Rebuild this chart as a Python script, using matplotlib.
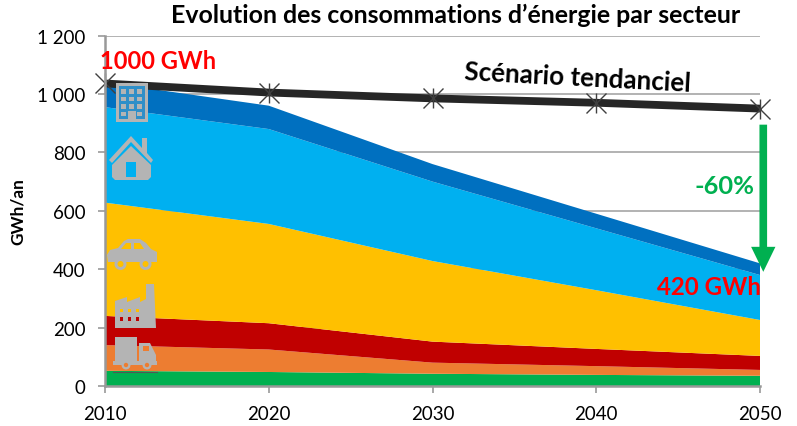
import matplotlib
matplotlib.use('Agg')
from matplotlib import pyplot as plt
from matplotlib.patches import Circle, Polygon

years = [2010, 2020, 2030, 2040, 2050]
agriculture = [52, 48, 42, 38, 35]
freight = [88, 77, 38, 30, 20]
industry = [100, 90, 72, 59, 48]
transport = [388, 340, 276, 201, 123]
residential = [327, 325, 272, 212, 154]
tertiary = [85, 80, 60, 50, 40]
trend = [1036, 1005, 985, 970, 950]

layer_colors = ['#00b050', '#ed7d31', '#c00000', '#ffc000', '#00b0f0', '#0070c0']
y_ticks = [0, 200, 400, 600, 800, 1000, 1200]
y_labels = ['0', '200', '400', '600', '800', '1 000', '1 200']

W, H = 797.0, 427.0
ICON = '#b4b4b4'

plt.rcParams['font.family'] = ['Lato', 'DejaVu Sans']


def px(x, y):
    return x / W, 1 - y / H


def poly(ax, points, color=ICON, alpha=1.0):
    ax.add_patch(Polygon([px(*p) for p in points], closed=True, facecolor=color,
                         edgecolor='none', alpha=alpha, transform=ax.figure.transFigure,
                         clip_on=False, zorder=5))


def box(ax, x0, y0, x1, y1, color=ICON):
    poly(ax, [(x0, y0), (x1, y0), (x1, y1), (x0, y1)], color)


def disc(ax, x, y, r, color=ICON):
    # drawn in pixels, the figure transform would squash a circle
    ax.add_patch(Circle((x, H - y), r, facecolor=color, edgecolor='none',
                        transform=None, clip_on=False, zorder=6))


def drawIcons(ax):
    # building
    box(ax, 116, 84, 148, 123)
    box(ax, 119, 87, 145, 120, '#2f8fc8')
    for row in range(4):
        for col in range(3):
            box(ax, 121 + col * 8, 90 + row * 7.5, 126 + col * 8, 94.5 + row * 7.5)
    box(ax, 128, 112, 136, 123, ICON)

    # house
    poly(ax, [(109, 161), (131, 137), (142, 149), (142, 139), (147, 139),
              (147, 154), (153, 161), (151, 164), (131, 143), (112, 164)])
    poly(ax, [(112, 166), (131, 147), (151, 166), (151, 178), (148, 181),
              (115, 181), (112, 178)])
    box(ax, 126, 163, 136, 178, '#00b0f0')

    # car
    poly(ax, [(107, 256), (110, 251), (118, 249), (124, 242), (128, 240), (140, 240),
              (146, 244), (151, 250), (157, 253), (157, 263), (108, 263)])
    poly(ax, [(121, 250), (126, 244), (131, 244), (131, 250)], '#ffc000')
    poly(ax, [(134, 250), (134, 244), (140, 244), (144, 250)], '#ffc000')
    for x in (120.5, 145.5):
        disc(ax, x, 265, 6.0)
        disc(ax, x, 265, 3.0, '#ffc000')

    # factory
    poly(ax, [(115, 329), (115, 302), (127, 298), (127, 303), (140, 298), (140, 303),
              (146, 300), (146, 285), (154, 285), (156, 329)])
    for x in (120, 128, 136):
        box(ax, x, 310, x + 3, 313, '#ffc000')
        box(ax, x, 318, x + 3, 322, '#c00000')

    # truck
    box(ax, 115, 338, 137, 364)
    poly(ax, [(139, 344), (150, 344), (156, 356), (156, 364), (139, 364)])
    box(ax, 143, 347, 149, 352, '#ed7d31')
    box(ax, 113, 362, 157, 366)
    for x in (126, 147):
        disc(ax, x, 366, 4.5)
        disc(ax, x, 366, 2.2, '#ed7d31')
    ax.plot([px(113, 373)[0], px(157, 373)[0]], [px(113, 373)[1], px(157, 373)[1]],
            color='#555555', linewidth=0.8, transform=ax.figure.transFigure,
            clip_on=False, zorder=5)


def main():

    f, ax = plt.subplots(figsize=(7.97, 4.27), dpi=100)
    f.subplots_adjust(left=105 / W, right=760 / W, top=1 - 36.6 / H, bottom=1 - 387 / H)

    ax.stackplot(years, agriculture, freight, industry, transport, residential, tertiary,
                 colors=layer_colors, linewidth=0, zorder=2)

    ax.plot(years, trend, color='#262626', linewidth=5.6, zorder=3,
            solid_capstyle='butt')
    for marker in ('x', '|'):
        ax.plot(years, trend, linestyle='none', marker=marker, markersize=15,
                markeredgewidth=1.0, color='#404040', zorder=4, clip_on=False)

    ax.set_xlim(2010, 2050)
    ax.set_ylim(0, 1200)
    ax.set_xticks(years)
    ax.set_yticks(y_ticks)
    ax.set_yticklabels(y_labels)
    ax.tick_params(axis='both', labelsize=13.5, color='#999999', width=1.2, length=5,
                   labelcolor='black')
    ax.tick_params(axis='x', pad=9)
    ax.tick_params(axis='y', pad=9)

    ax.yaxis.grid(True, color='#a6a6a6', linewidth=1.2, zorder=1)
    ax.set_axisbelow(True)
    for side in ('top', 'right'):
        ax.spines[side].set_visible(False)
    for side in ('left', 'bottom'):
        ax.spines[side].set_color('#999999')
        ax.spines[side].set_linewidth(1.8)
        ax.spines[side].set_zorder(6)

    f.text(456 / W, 1 - 15 / H, 'Evolution des consommations d\u2019\u00e9nergie par secteur',
           fontsize=17.9, fontweight='bold', ha='center', va='center')
    f.text(18 / W, 1 - 212 / H, 'GWh/an', fontsize=12.4, fontweight='bold', rotation=90,
           ha='center', va='center')

    ax.annotate('', xy=(2050.2, 391), xytext=(2050.2, 895), zorder=7,
                annotation_clip=False,
                arrowprops=dict(arrowstyle='simple,head_length=1.8,head_width=1.75,tail_width=0.55',
                                color='#00b050', linewidth=0, shrinkA=0, shrinkB=0,
                                mutation_scale=10))

    f.text(158 / W, 1 - 62 / H, '1000 GWh', fontsize=17, fontweight='bold', color='#ff0000',
           ha='center', va='center', zorder=8)
    f.text(709 / W, 1 - 288 / H, '420 GWh', fontsize=17.3, fontweight='bold', color='#ff0000',
           ha='center', va='center', zorder=8)
    f.text(725 / W, 1 - 187 / H, '-60%', fontsize=18.3, fontweight='bold', color='#00b050',
           ha='center', va='center', zorder=8)
    f.text(578 / W, 1 - 78 / H, 'Sc\u00e9nario tendanciel', fontsize=18.7, fontweight='bold',
           rotation=-3, ha='center', va='center', zorder=8)

    drawIcons(ax)

    plt.savefig('out.png', dpi=100)


if __name__ == '__main__':
    main()
